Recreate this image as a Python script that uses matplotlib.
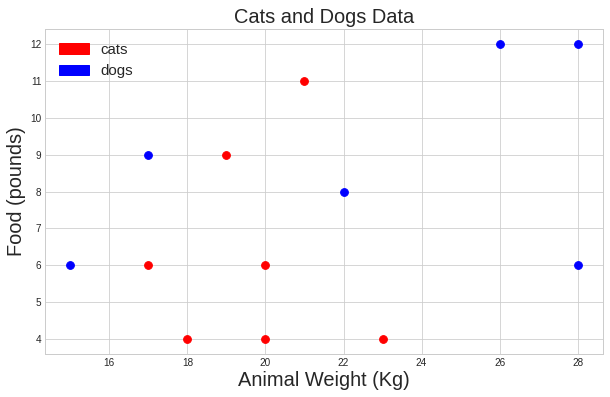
import matplotlib
matplotlib.use('Agg')
import matplotlib.pyplot as plt
import matplotlib.patches as mpatches

# cats and dogs: weight (kg) vs food (pounds)
cat_weight = [17, 18, 19, 20, 20, 21, 23]
cat_food = [6, 4, 9, 6, 4, 11, 4]
dog_weight = [15, 17, 22, 26, 28, 28]
dog_food = [6, 9, 8, 12, 12, 6]

plt.style.use('seaborn-v0_8-whitegrid')
plt.rcParams['font.family'] = ['Liberation Sans', 'DejaVu Sans']

fig = plt.figure(figsize=(610 / 72, 397 / 72), dpi=72)
ax = fig.add_axes([45 / 610, 1 - 354 / 397, 558 / 610, 325 / 397])

ax.scatter(cat_weight, cat_food, color='red', s=60, zorder=3)
ax.scatter(dog_weight, dog_food, color='blue', s=60, zorder=3)

ax.set_title('Cats and Dogs Data', fontsize=20)
ax.set_xlabel('Animal Weight (Kg)', fontsize=20)
ax.set_ylabel('Food (pounds)', fontsize=20)
ax.tick_params(labelsize=10)

red_patch = mpatches.Patch(color='red', label='cats')
blue_patch = mpatches.Patch(color='blue', label='dogs')
ax.legend(handles=[red_patch, blue_patch], loc='upper left', fontsize=15)

fig.savefig('out.png', dpi=72)
